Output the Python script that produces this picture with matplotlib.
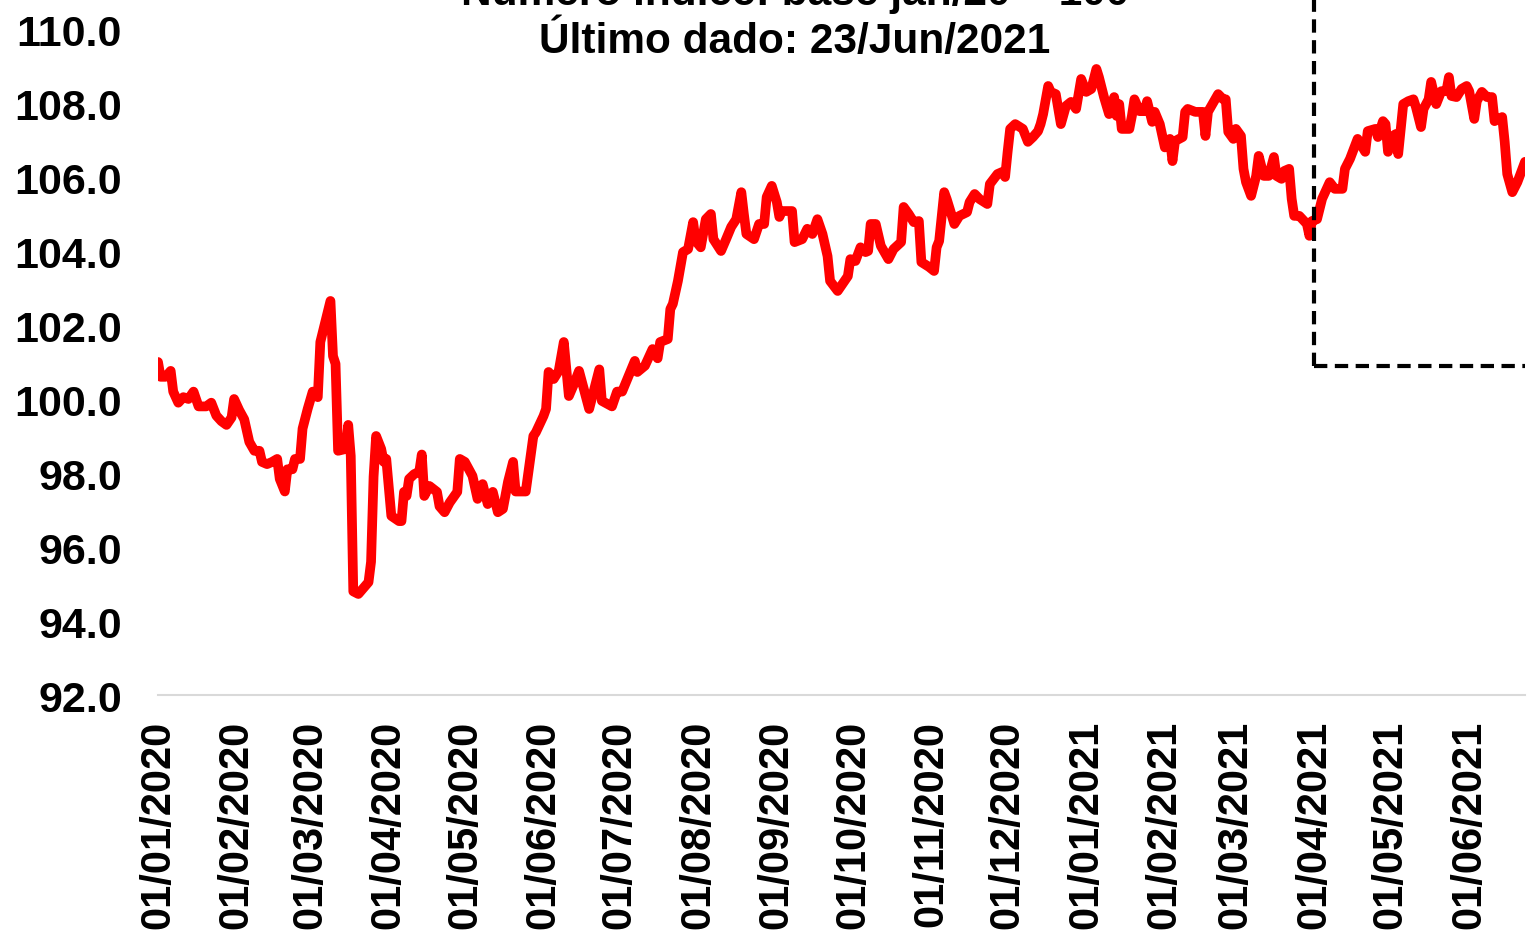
import matplotlib
matplotlib.use("Agg")
import matplotlib.pyplot as plt
import matplotlib.dates as mdates
import pandas as pd

# index values (base jan/20 = 100)
dates = [
    "2020-01-01", "2020-01-02", "2020-01-04", "2020-01-06", "2020-01-07", "2020-01-09",
    "2020-01-11", "2020-01-13", "2020-01-15", "2020-01-16", "2020-01-17", "2020-01-20",
    "2020-01-22", "2020-01-24", "2020-01-26", "2020-01-28", "2020-01-30", "2020-01-31",
    "2020-02-02", "2020-02-04", "2020-02-06", "2020-02-08", "2020-02-10", "2020-02-11",
    "2020-02-13", "2020-02-15", "2020-02-17", "2020-02-18", "2020-02-20", "2020-02-21",
    "2020-02-23", "2020-02-24", "2020-02-26", "2020-02-27", "2020-02-29",
    "2020-03-02", "2020-03-04", "2020-03-05", "2020-03-07", "2020-03-09", "2020-03-10",
    "2020-03-11", "2020-03-12", "2020-03-15", "2020-03-16", "2020-03-17", "2020-03-18",
    "2020-03-20", "2020-03-24", "2020-03-25", "2020-03-26", "2020-03-27", "2020-03-29",
    "2020-03-30", "2020-03-31",
    "2020-04-02", "2020-04-05", "2020-04-06", "2020-04-07", "2020-04-08", "2020-04-09",
    "2020-04-11", "2020-04-13", "2020-04-14", "2020-04-15", "2020-04-17", "2020-04-20",
    "2020-04-21", "2020-04-23", "2020-04-25", "2020-04-28", "2020-04-29",
    "2020-05-01", "2020-05-04", "2020-05-06", "2020-05-08", "2020-05-10", "2020-05-12",
    "2020-05-14", "2020-05-16", "2020-05-18", "2020-05-20", "2020-05-21", "2020-05-25",
    "2020-05-27", "2020-05-28", "2020-05-29",
    "2020-06-01", "2020-06-02", "2020-06-03", "2020-06-05", "2020-06-07", "2020-06-09",
    "2020-06-11", "2020-06-13", "2020-06-15", "2020-06-19", "2020-06-23", "2020-06-24",
    "2020-06-28", "2020-06-30",
    "2020-07-02", "2020-07-05", "2020-07-07", "2020-07-08", "2020-07-11", "2020-07-14",
    "2020-07-16", "2020-07-17", "2020-07-20", "2020-07-21", "2020-07-22", "2020-07-24",
    "2020-07-26", "2020-07-28", "2020-07-30", "2020-07-31",
    "2020-08-02", "2020-08-04", "2020-08-06", "2020-08-07", "2020-08-10", "2020-08-12",
    "2020-08-14", "2020-08-16", "2020-08-18", "2020-08-19", "2020-08-20", "2020-08-23",
    "2020-08-25", "2020-08-27", "2020-08-28", "2020-08-30",
    "2020-09-01", "2020-09-02", "2020-09-03", "2020-09-07", "2020-09-08", "2020-09-11",
    "2020-09-13", "2020-09-15", "2020-09-17", "2020-09-19", "2020-09-21", "2020-09-22",
    "2020-09-25", "2020-09-29", "2020-09-30",
    "2020-10-02", "2020-10-04", "2020-10-06", "2020-10-07", "2020-10-08", "2020-10-10",
    "2020-10-12", "2020-10-15", "2020-10-17", "2020-10-20", "2020-10-21", "2020-10-23",
    "2020-10-25", "2020-10-27", "2020-10-28", "2020-10-31",
    "2020-11-02", "2020-11-03", "2020-11-04", "2020-11-06", "2020-11-07", "2020-11-10",
    "2020-11-12", "2020-11-15", "2020-11-16", "2020-11-18", "2020-11-20", "2020-11-23",
    "2020-11-24", "2020-11-27", "2020-11-29", "2020-11-30",
    "2020-12-01", "2020-12-02", "2020-12-04", "2020-12-07", "2020-12-09", "2020-12-11",
    "2020-12-13", "2020-12-14", "2020-12-15", "2020-12-17", "2020-12-18", "2020-12-20",
    "2020-12-22", "2020-12-24", "2020-12-26", "2020-12-28", "2020-12-30",
    "2021-01-01", "2021-01-03", "2021-01-05", "2021-01-06", "2021-01-08", "2021-01-10",
    "2021-01-12", "2021-01-13", "2021-01-14", "2021-01-15", "2021-01-18", "2021-01-19",
    "2021-01-20", "2021-01-22", "2021-01-24", "2021-01-25", "2021-01-27", "2021-01-28",
    "2021-01-30",
    "2021-02-01", "2021-02-03", "2021-02-04", "2021-02-05", "2021-02-08", "2021-02-09",
    "2021-02-10", "2021-02-13", "2021-02-16", "2021-02-17", "2021-02-18", "2021-02-22",
    "2021-02-24", "2021-02-25", "2021-02-26", "2021-02-28",
    "2021-03-01", "2021-03-03", "2021-03-04", "2021-03-05", "2021-03-07", "2021-03-09",
    "2021-03-10", "2021-03-12", "2021-03-14", "2021-03-16", "2021-03-17", "2021-03-19",
    "2021-03-20", "2021-03-22", "2021-03-23", "2021-03-24", "2021-03-26", "2021-03-29",
    "2021-03-30", "2021-03-31",
    "2021-04-02", "2021-04-04", "2021-04-07", "2021-04-09", "2021-04-12", "2021-04-13",
    "2021-04-15", "2021-04-18", "2021-04-21", "2021-04-22", "2021-04-25", "2021-04-26",
    "2021-04-28", "2021-04-29", "2021-04-30",
    "2021-05-02", "2021-05-03", "2021-05-04", "2021-05-06", "2021-05-08", "2021-05-10",
    "2021-05-11", "2021-05-13", "2021-05-14", "2021-05-16", "2021-05-17", "2021-05-19",
    "2021-05-21", "2021-05-23", "2021-05-24", "2021-05-25", "2021-05-27", "2021-05-29",
    "2021-05-31",
    "2021-06-01", "2021-06-03", "2021-06-04", "2021-06-06", "2021-06-08", "2021-06-10",
    "2021-06-11", "2021-06-14", "2021-06-15", "2021-06-16", "2021-06-18", "2021-06-20",
    "2021-06-23",
]
values = [
    101.0, 100.6, 100.6, 100.76, 100.2, 99.9,
    100.05, 100.0, 100.2, 100.0, 99.8, 99.8,
    99.9, 99.55, 99.4, 99.3, 99.5, 100.0,
    99.7, 99.45, 98.84, 98.6, 98.6, 98.3,
    98.24, 98.3, 98.38, 97.84, 97.5, 98.1,
    98.1, 98.38, 98.38, 99.2, 99.73,
    100.2, 100.05, 101.54, 102.1, 102.65, 101.16,
    100.95, 98.6, 98.65, 99.3, 98.46, 94.8,
    94.73, 95.05, 95.6, 97.9, 99.0, 98.65,
    98.3, 98.38,
    96.84, 96.7, 96.7, 97.49, 97.38, 97.84,
    97.97, 98.03, 98.5, 97.38, 97.65, 97.49,
    97.1, 96.94, 97.2, 97.49, 98.38,
    98.3, 97.92, 97.3, 97.7, 97.16, 97.49,
    96.94, 97.03, 97.76, 98.3, 97.5, 97.5,
    98.5, 99.0, 99.1,
    99.54, 99.73, 100.73, 100.54, 100.76, 101.54,
    100.08, 100.4, 100.76, 99.73, 100.8, 99.95,
    99.8, 100.2,
    100.2, 100.7, 101.03, 100.73, 100.9, 101.35,
    101.1, 101.54, 101.62, 102.43, 102.57, 103.19,
    103.97, 104.05, 104.78, 104.27,
    104.1, 104.86, 105.0, 104.32, 104.0, 104.32,
    104.65, 104.86, 105.59, 105.0, 104.46, 104.32,
    104.73, 104.73, 105.46, 105.76,
    105.32, 104.92, 105.08, 105.08, 104.24, 104.32,
    104.6, 104.46, 104.86, 104.46, 103.86, 103.19,
    102.92, 103.32, 103.78,
    103.73, 104.1, 103.97, 104.0, 104.73, 104.73,
    104.14, 103.78, 104.05, 104.24, 105.19, 105.0,
    104.78, 104.81, 103.7, 103.57,
    103.46, 104.1, 104.27, 105.59, 105.4, 104.73,
    104.95, 105.05, 105.32, 105.54, 105.4, 105.27,
    105.81, 106.08, 106.14, 106.0,
    106.68, 107.3, 107.43, 107.3, 106.95, 107.08,
    107.24, 107.43, 107.7, 108.46, 108.3, 108.24,
    107.43, 107.92, 108.03, 107.84, 108.65,
    108.3, 108.38, 108.92, 108.7, 108.16, 107.7,
    108.16, 107.65, 107.97, 107.3, 107.3, 107.65,
    108.1, 107.78, 107.78, 108.05, 107.49, 107.76,
    107.43,
    106.8, 107.03, 106.43, 106.97, 107.08, 107.76,
    107.84, 107.76, 107.76, 107.11, 107.76, 108.24,
    108.1, 108.1, 107.22, 107.03,
    107.3, 107.11, 106.22, 105.86, 105.49, 106.03,
    106.57, 106.03, 106.03, 106.54, 106.03, 105.95,
    106.16, 106.22, 105.41, 104.95, 104.95, 104.73,
    104.41, 104.81,
    104.86, 105.41, 105.86, 105.68, 105.68, 106.22,
    106.49, 107.03, 106.68, 107.24, 107.3, 107.08,
    107.51, 107.43, 106.68,
    107.11, 107.16, 106.62, 107.97, 108.05, 108.1,
    107.89, 107.35, 107.84, 108.1, 108.57, 107.97,
    108.32, 108.32, 108.7, 108.19, 108.16, 108.38,
    108.46,
    108.32, 107.57, 108.05, 108.3, 108.16, 108.16,
    107.51, 107.62, 106.95, 106.08, 105.59, 105.86,
    106.41,
]

# highlighted window (dashed box)
box_start = "2021-04-01"
box_end = "2021-06-23"
box_floor = 100.9
box_top = 111.2

y_ticks = [92, 94, 96, 98, 100, 102, 104, 106, 108, 110]

title_1 = "Número índice: base jan/20 = 100"
title_2 = "Último dado: 23/Jun/2021"

plt.rcParams["font.family"] = ["Liberation Sans", "DejaVu Sans"]
plt.rcParams["font.weight"] = "bold"

x = pd.to_datetime(dates)

fig = plt.figure(figsize=(15.29, 9.37), dpi=100)
ax = fig.add_axes([0.10334, 0.25720, 0.89404, 0.71078])

ax.plot(x, values, color="#ff0000", lw=7, solid_joinstyle="round", solid_capstyle="round", zorder=3)

b0, b1 = pd.Timestamp(box_start), pd.Timestamp(box_end)
dash = (0, (3.2, 1.8))
ax.plot([b0, b0], [box_floor, box_top], color="black", lw=3, ls=dash, clip_on=False, zorder=4)
ax.plot([b0, b1], [box_floor, box_floor], color="black", lw=3, ls=dash, clip_on=False, zorder=4)

ax.set_xlim(pd.Timestamp("2020-01-01"), pd.Timestamp("2021-06-23"))
ax.set_ylim(92, 110)
ax.set_yticks(y_ticks)
ax.yaxis.set_major_formatter(matplotlib.ticker.FormatStrFormatter("%.1f"))
ax.xaxis.set_major_locator(mdates.MonthLocator())
ax.xaxis.set_major_formatter(mdates.DateFormatter("%d/%m/%Y"))

for s in ["top", "right", "left"]:
    ax.spines[s].set_visible(False)
ax.spines["bottom"].set_color("#d9d9d9")
ax.spines["bottom"].set_linewidth(1.5)

ax.tick_params(axis="y", length=0, pad=26, labelsize=31)
ax.tick_params(axis="x", length=0, pad=18, labelsize=30, labelrotation=90)
for lab in ax.get_xticklabels() + ax.get_yticklabels():
    lab.set_fontweight("bold")

fig.text(0.52, 1 - 5 / 937, title_1, ha="center", va="baseline", fontsize=30.5, fontweight="bold")
fig.text(0.52, 1 - 53 / 937, title_2, ha="center", va="baseline", fontsize=30.5, fontweight="bold")

fig.savefig("out.png", dpi=100)
